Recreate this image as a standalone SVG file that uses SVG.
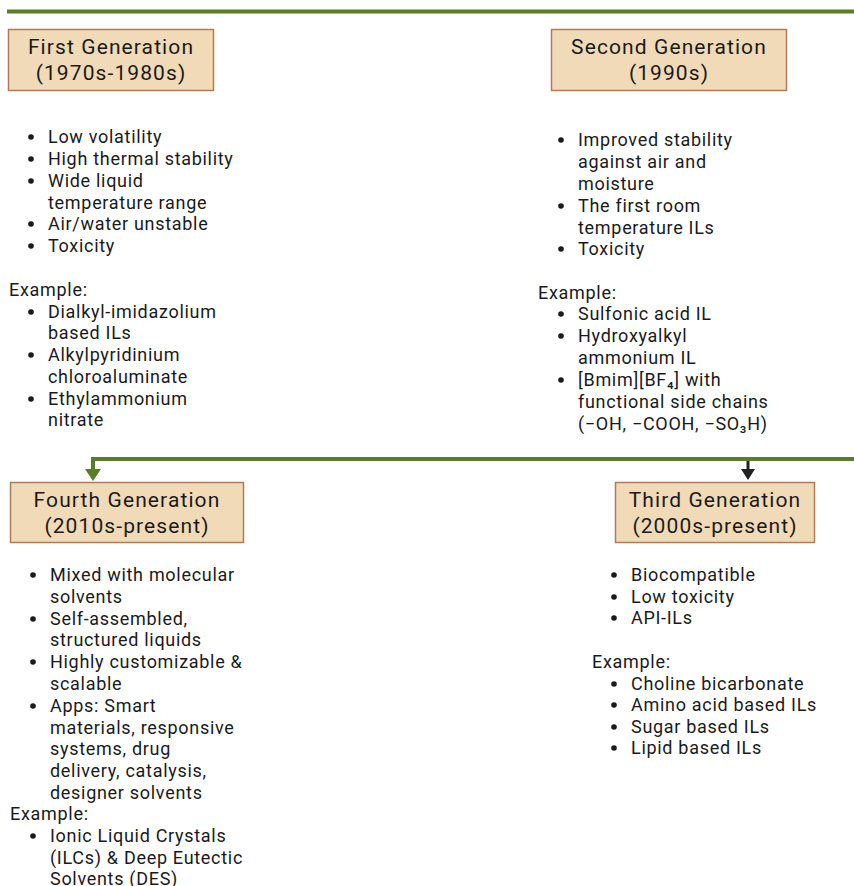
<svg xmlns="http://www.w3.org/2000/svg" width="854" height="886" viewBox="0 0 854 886">
<defs>
<style>
.box{fill:#f1dab7;stroke:#b07c55;stroke-width:1.5}
.h{font-family:Roboto,"Liberation Sans",sans-serif;font-size:21px;letter-spacing:1.1px;fill:#1a1a1a;text-anchor:middle}
.t{font-family:Roboto,"Liberation Sans",sans-serif;font-size:18px;letter-spacing:0.7px;fill:#1a1a1a}
.b{fill:#1a1a1a}
.g{stroke:#5b7d2b;stroke-width:4;fill:none}
</style>
</defs>
<rect width="854" height="886" fill="#fff"/>
<g id="connectors">
<line class="g" x1="7" y1="11.5" x2="854" y2="11.5"/>
<path class="g" d="M854,459 H93 V470"/>
<path d="M85,469 L101,469 L93,481 z" fill="#5b7d2b"/>
<line x1="748" y1="461" x2="748" y2="470" stroke="#222" stroke-width="3"/>
<path d="M741,469 L755,469 L748,480 z" fill="#222"/>
</g>
<g id="first">
<rect class="box" x="8.5" y="29.5" width="205" height="61"/>
<text class="h" x="111" y="54">First Generation</text>
<text class="h" x="111" y="80">(1970s-1980s)</text>
<g class="b">
<circle cx="31" cy="137" r="2.8"/><circle cx="31" cy="159" r="2.8"/><circle cx="31" cy="181" r="2.8"/><circle cx="31" cy="224" r="2.8"/><circle cx="31" cy="246" r="2.8"/>
<circle cx="31" cy="312" r="2.8"/><circle cx="31" cy="355" r="2.8"/><circle cx="31" cy="399" r="2.8"/>
</g>
<g class="t">
<text x="48" y="143">Low volatility</text>
<text x="48" y="165">High thermal stability</text>
<text x="48" y="187">Wide liquid</text>
<text x="48" y="209">temperature range</text>
<text x="48" y="230">Air/water unstable</text>
<text x="48" y="252">Toxicity</text>
<text x="9" y="296">Example:</text>
<text x="48" y="318">Dialkyl-imidazolium</text>
<text x="48" y="339">based ILs</text>
<text x="48" y="361"> Alkylpyridinium</text>
<text x="48" y="383">chloroaluminate</text>
<text x="48" y="405">Ethylammonium</text>
<text x="48" y="426">nitrate</text>
</g>
</g>
<g id="second">
<rect class="box" x="551.5" y="29.5" width="235" height="61"/>
<text class="h" x="669" y="54">Second Generation</text>
<text class="h" x="669" y="80">(1990s)</text>
<g class="b">
<circle cx="561" cy="140" r="2.8"/><circle cx="561" cy="206" r="2.8"/><circle cx="561" cy="249" r="2.8"/>
<circle cx="561" cy="314" r="2.8"/><circle cx="561" cy="336" r="2.8"/><circle cx="561" cy="380" r="2.8"/>
</g>
<g class="t">
<text x="578" y="146">Improved stability</text>
<text x="578" y="168">against air and</text>
<text x="578" y="190">moisture</text>
<text x="578" y="212">The first room</text>
<text x="578" y="234">temperature ILs</text>
<text x="578" y="255">Toxicity</text>
<text x="538" y="299">Example:</text>
<text x="578" y="320">Sulfonic acid IL</text>
<text x="578" y="342">Hydroxyalkyl</text>
<text x="578" y="364">ammonium IL</text>
<text x="578" y="386">[Bmim][BF₄] with</text>
<text x="578" y="408">functional side chains</text>
<text x="578" y="430">(−OH, −COOH, −SO₃H)</text>
</g>
</g>
<g id="fourth">
<rect class="box" x="10.5" y="482.5" width="233" height="60"/>
<text class="h" x="127" y="507">Fourth Generation</text>
<text class="h" x="127" y="533">(2010s-present)</text>
<g class="b">
<circle cx="33" cy="575" r="2.8"/><circle cx="33" cy="619" r="2.8"/><circle cx="33" cy="662" r="2.8"/><circle cx="33" cy="706" r="2.8"/>
<circle cx="33" cy="836" r="2.8"/>
</g>
<g class="t">
<text x="50" y="581">Mixed with molecular</text>
<text x="50" y="603">solvents</text>
<text x="50" y="625">Self-assembled,</text>
<text x="50" y="646">structured liquids</text>
<text x="50" y="668">Highly customizable &amp;</text>
<text x="50" y="690">scalable</text>
<text x="50" y="712">Apps: Smart</text>
<text x="50" y="734">materials, responsive</text>
<text x="50" y="755">systems, drug</text>
<text x="50" y="777">delivery, catalysis,</text>
<text x="50" y="799">designer solvents</text>
<text x="10" y="820">Example:</text>
<text x="50" y="842">Ionic Liquid Crystals</text>
<text x="50" y="864">(ILCs) &amp; Deep Eutectic</text>
<text x="50" y="885">Solvents (DES)</text>
</g>
</g>
<g id="third">
<rect class="box" x="615.5" y="482.5" width="199" height="60"/>
<text class="h" x="715" y="507">Third Generation</text>
<text class="h" x="715" y="533">(2000s-present)</text>
<g class="b">
<circle cx="614" cy="575" r="2.8"/><circle cx="614" cy="597" r="2.8"/><circle cx="614" cy="618" r="2.8"/>
<circle cx="614" cy="684" r="2.8"/><circle cx="614" cy="705" r="2.8"/><circle cx="614" cy="727" r="2.8"/><circle cx="614" cy="748" r="2.8"/>
</g>
<g class="t">
<text x="631" y="581">Biocompatible</text>
<text x="631" y="603">Low toxicity</text>
<text x="631" y="624">API-ILs</text>
<text x="592" y="668">Example:</text>
<text x="631" y="690">Choline bicarbonate</text>
<text x="631" y="711">Amino acid based ILs</text>
<text x="631" y="733">Sugar based ILs</text>
<text x="631" y="754">Lipid based ILs</text>
</g>
</g>
</svg>
